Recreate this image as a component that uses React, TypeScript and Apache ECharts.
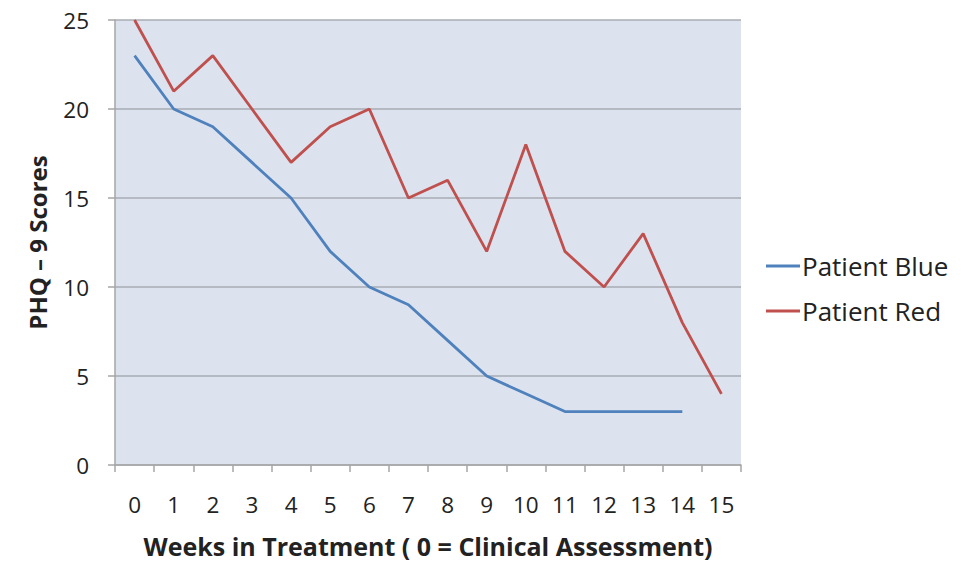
import React, { useEffect, useRef } from "react";
import * as echarts from "echarts";

const weeks = ["0", "1", "2", "3", "4", "5", "6", "7", "8", "9", "10", "11", "12", "13", "14", "15"];
const patientBlue: (number | null)[] = [23, 20, 19, 17, 15, 12, 10, 9, 7, 5, 4, 3, 3, 3, 3, null];
const patientRed: (number | null)[] = [25, 21, 23, 20, 17, 19, 20, 15, 16, 12, 18, 12, 10, 13, 8, 4];
const seriesNames = ["Patient Blue", "Patient Red"];
const xTitle = "Weeks in Treatment ( 0 = Clinical Assessment)";
const yTitle = "PHQ – 9 Scores";

const FONT = "'Open Sans', Lato, sans-serif";
const TEXT = "#222222";

export default function App() {
  const ref = useRef<HTMLDivElement>(null);
  useEffect(() => {
    if (!ref.current) return;
    const chart = echarts.init(ref.current, null, { renderer: "svg" });
    chart.setOption({
      animation: false,
      backgroundColor: "#ffffff",
      textStyle: { fontFamily: FONT },
      grid: {
        left: 115,
        right: 236,
        top: 20,
        bottom: 95,
        show: true,
        backgroundColor: "#dce3ef",
        borderWidth: 0,
        containLabel: false,
      },
      legend: {
        orient: "vertical",
        left: 766,
        top: 253,
        padding: 0,
        itemWidth: 34,
        itemHeight: 3,
        itemGap: 19,
        icon: "rect",
        textStyle: { fontFamily: FONT, fontSize: 26, color: TEXT, padding: [0, 0, 0, -3] },
        data: seriesNames,
      },
      xAxis: {
        type: "category",
        data: weeks,
        boundaryGap: true,
        name: xTitle,
        nameLocation: "middle",
        nameGap: 68,
        nameTextStyle: { fontFamily: FONT, fontSize: 25, fontWeight: "bold", color: TEXT },
        axisLine: { show: true, lineStyle: { color: "#a6a6a6", width: 1.5 } },
        axisTick: { show: true, interval: 0, length: 7, alignWithLabel: false, lineStyle: { color: "#a6a6a6", width: 1.5 } },
        axisLabel: { interval: 0, margin: 28, fontSize: 22.5, color: TEXT, fontFamily: FONT },
        splitLine: { show: false },
      },
      yAxis: {
        type: "value",
        min: 0,
        max: 25,
        interval: 5,
        name: yTitle,
        nameLocation: "middle",
        nameRotate: 90,
        nameGap: 66,
        nameTextStyle: { fontFamily: FONT, fontSize: 24, fontWeight: "bold", color: TEXT },
        axisLine: { show: true, lineStyle: { color: "#a6a6a6", width: 1.5 } },
        axisTick: { show: true, length: 7, lineStyle: { color: "#a6a6a6", width: 1.5 } },
        axisLabel: { margin: 26, fontSize: 22.5, color: TEXT, fontFamily: FONT },
        splitLine: { show: true, lineStyle: { color: "#a9adb3", width: 1.5 } },
      },
      series: [
        {
          name: seriesNames[0],
          type: "line",
          data: patientBlue,
          showSymbol: false,
          symbol: "none",
          connectNulls: false,
          lineStyle: { color: "#4f81bd", width: 2.8 },
          itemStyle: { color: "#4f81bd" },
        },
        {
          name: seriesNames[1],
          type: "line",
          data: patientRed,
          showSymbol: false,
          symbol: "none",
          lineStyle: { color: "#c0504d", width: 2.8 },
          itemStyle: { color: "#c0504d" },
        },
      ],
    });
    return () => chart.dispose();
  }, []);
  return (
    <div
      ref={ref}
      style={{ position: "fixed", left: 0, top: 0, width: 977, height: 563 }}
    />
  );
}
